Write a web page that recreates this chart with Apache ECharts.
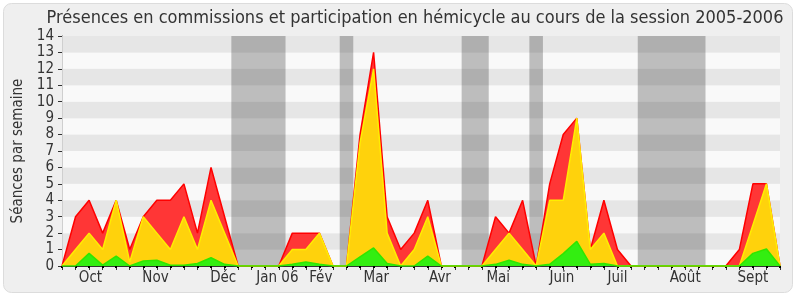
<!DOCTYPE html>
<html><head><meta charset="utf-8">
<script src="https://cdn.jsdelivr.net/npm/echarts@6/dist/echarts.min.js"></script>
<style>html,body{margin:0;padding:0;background:#fff}#c{width:800px;height:300px}</style>
</head><body><div id="c"></div>
<script>
// Weekly values, one per week of the session (54 weeks)
const redTotal = [0,3,4,2,4,1,3,4,4,5,2,6,3,0,0,0,0,2,2,2,0,0,8,13,3,1,2,4,0,0,0,0,3,2,4,0,5,8,9,1,4,1,0,0,0,0,0,0,0,0,1,5,5,0];
const yellowTotal = [0,1,2,1,4,0.25,3,2,1,3,1,4,2,0,0,0,0,1,1,2,0,0,7.5,12,2,0,1,3,0,0,0,0,1,2,1,0,4,4,9,1,2,0,0,0,0,0,0,0,0,0,0,2.5,5,0];
const greenTotal = [0,0,0.77,0.05,0.6,0,0.3,0.35,0.05,0.05,0.15,0.5,0.1,0,0,0,0,0.1,0.25,0.1,0,0,0.55,1.1,0.15,0,0,0.6,0,0,0,0,0.1,0.35,0.1,0,0.1,0.75,1.5,0.1,0.15,0,0,0,0,0,0,0,0,0,0,0.77,1.03,0];
// Month labels and their position on the week scale
const monthNames = ['Oct','Nov','Déc','Jan 06','Fév','Mar','Avr','Mai','Juin','Juil','Août','Sept'];
const monthPos = [2.1,6.9,11.9,15.9,19.1,23.2,27.9,32.2,36.9,41,46,51];
// Vacation periods (week scale)
const vacStart = [12.5,20.5,29.5,34.5,42.5];
const vacEnd = [16.5,21.5,31.5,35.5,47.5];

const FONT = "'DejaVu Sans Condensed', 'DejaVu Sans', sans-serif";
const chart = echarts.init(document.getElementById('c'), null, {renderer:'canvas'});
const pairs = arr => arr.map((v,i)=>[i,v]);
const mk = (name, arr, fill, line, z) => ({
  type:'line', name, data: pairs(arr), symbol:'none', z, animation:false,
  lineStyle:{color:line, width:1.5}, areaStyle:{color:fill, opacity:1}, itemStyle:{color:fill}
});
chart.setOption({
  animation:false,
  graphic:[{type:'rect', z:-100, shape:{x:3.5,y:3.5,width:789,height:289,r:8}, style:{fill:'#efefef', stroke:'#dcdcdc', lineWidth:1}}],
  title:{text:'Présences en commissions et participation en hémicycle au cours de la session 2005-2006', left:410, top:4, textAlign:'center', textStyle:{fontSize:18, fontWeight:'normal', color:'#333', fontFamily:FONT}},
  grid:{left:62, right:20, top:36, bottom:34},
  xAxis:[{
    type:'value', min:0, max:53, interval:1, position:'bottom',
    axisLine:{show:true, onZero:false, lineStyle:{color:'#333'}},
    axisTick:{show:true, length:4, lineStyle:{color:'#333'}},
    axisLabel:{customValues:monthPos, formatter:v=>{const i=monthPos.indexOf(v);return i>=0?monthNames[i]:'';}, fontSize:15, color:'#333', fontFamily:FONT, margin:5},
    splitLine:{show:false}
  },{
    type:'value', min:0, max:53, interval:1, position:'top',
    axisLine:{show:false}, axisTick:{show:true, inside:true, length:2, lineStyle:{color:'#000', width:2}},
    axisLabel:{show:false}, splitLine:{show:false}
  }],
  yAxis:[{
    type:'value', min:0, max:14, interval:1,
    name:'Séances par semaine', nameLocation:'middle', nameGap:32,
    nameTextStyle:{fontSize:15, color:'#333', fontFamily:FONT},
    axisLine:{show:true, lineStyle:{color:'#333'}},
    axisTick:{show:true, length:4, lineStyle:{color:'#333'}},
    axisLabel:{fontSize:15, color:'#333', fontFamily:FONT, margin:8},
    splitLine:{show:false},
    splitArea:{show:true, areaStyle:{color:['#f9f9f9','#e6e6e6']}}
  },{
    type:'value', min:0, max:14, interval:1, position:'right',
    axisLine:{show:true, lineStyle:{color:'#cfcfcf'}}, axisTick:{show:false}, axisLabel:{show:false}, splitLine:{show:false}
  }],
  series:[
    {type:'line', data:[[0,0]], symbol:'none', lineStyle:{opacity:0}, z:1, silent:true,
     markArea:{silent:true, itemStyle:{color:'rgba(0,0,0,0.24)'}, data: vacStart.map((s,i)=>[{xAxis:s},{xAxis:vacEnd[i]}])}},
    mk('Total', redTotal, '#ff3636', '#ff0000', 2),
    mk('Hémicycle', yellowTotal, '#ffd20c', '#ffee00', 3),
    mk('Commissions', greenTotal, '#33ee11', '#2ee600', 4)
  ]
});
</script></body></html>
